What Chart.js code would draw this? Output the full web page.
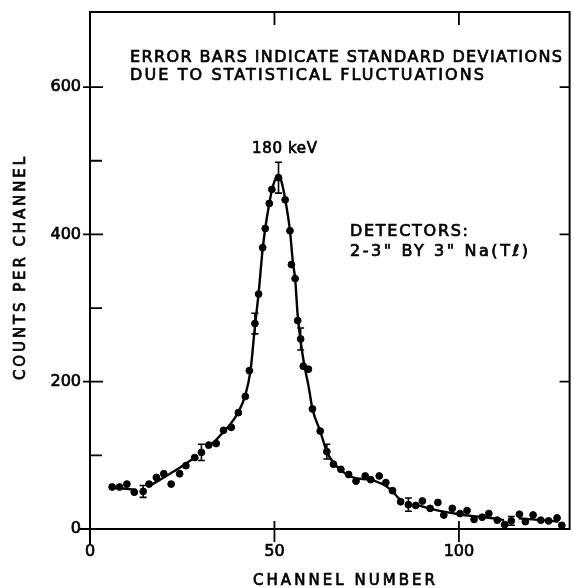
<!DOCTYPE html>
<html>
<head>
<meta charset="utf-8">
<script src="https://cdn.jsdelivr.net/npm/chart.js@4.4.0/dist/chart.umd.min.js"></script>
<style>
  html, body { margin: 0; padding: 0; background: #fff; }
  #wrap { width: 574px; height: 588px; }
</style>
</head>
<body>
<div id="wrap"><canvas id="spectrum" width="574" height="588"></canvas></div>
<script>
// measured points
const channels = [6, 8, 10, 12, 14.4, 16, 18, 20, 22, 24.3, 26, 28.4, 30.2, 32.2, 34.2, 36.2, 38.3, 40.2, 42.1, 43.2,
  44.7, 45.7, 46.8, 47.5, 48.6, 49.3, 51.1, 52.9, 54.2, 54.6, 55.6, 56.3, 57.1, 57.8, 59.2, 60.3, 62.4, 64.2, 66, 68,
  70.1, 72.1, 74.6, 76.1, 78.4, 80.2, 82, 84.2, 86.3, 88.3, 90.1, 92.2, 94.3, 95.9, 98.2, 100.3, 102.2, 104.1, 106.3,
  108.1, 110.4, 112.4, 114.2, 116.4, 118, 120.1, 122.2, 124.3, 126.6, 127.9];
const counts = [57, 57, 61, 50, 51, 61, 70, 75, 61, 75, 86, 97, 104, 114, 116, 134, 138, 158, 180, 215,
  279, 319, 382, 408, 442, 461, 477, 447, 405, 359, 340, 283, 258, 221, 217, 163, 133, 105, 88, 81,
  74, 65, 72, 67, 72, 63, 52, 37, 33, 32, 38, 28, 36, 19, 28, 21, 25, 13, 16,
  21, 12, 6, 11, 20, 10, 19, 12, 11, 15, 5];

// error bars (one standard deviation)
const errChannels = [14.4, 30.2, 44.7, 51.1, 57.1, 64.2, 86.3, 114.2];
const errCounts = [51, 104, 279, 477, 258, 105, 33, 11];
const errSigma = [8, 11, 14, 21, 15, 10, 9, 6];

// hand drawn curve, null = break in the line
const fitChannels = [6, 9, 12.6, 14, 15.8, 18, 20, 22, 24, 26, 28.8, 30, 31.5, 34, 36, 38, 40, 42, 43.5, 44.7,
  45.7, 46.8, 47.5, 48.6, 49.3, 50.3, 51.1, 52, 52.9, 54.2, 55, 55.6, 56.3, 57.1, 58, 59.2, 60.3, 62.4, 64.2, 66,
  68, 70, 72, 74.8, 76, 78.8, 80, 81.5, 84.2, 86, 88.3, 92, 95.9, 100, 104, 107.2, 110, 112.2, 114, 116.2,
  120, 124, 127];
const fitCounts = [56, 55, 53, null, 58, 64, 70, 76, 82, 89, 98, null, 110, 120, 131, 142, 157, 180, 215, 275,
  320, 380, 408, 442, 460, 476, 481, 470, 448, 405, 362, 340, 290, 255, 225, 195, 163, 133, 105, 90,
  80, 73, 69, 67.5, 67, 62, 59, 53, 39, null, 33, 28, 23.5, 20, 17.5, 16, 14, 12, null, 14.5,
  13, 11.5, 10];

const yLabels = [0, 200, 400, 600];
const xLabels = [0, 50, 100];

const FONT = '"DejaVu Sans", sans-serif';

// lettering: filled plus a thin stroke to get the heavier pen weight
function letter(ctx, text, x, y, size, width) {
  ctx.font = size + "px " + FONT;
  ctx.letterSpacing = "0px";
  if (width) {
    const w = ctx.measureText(text).width;
    const gap = (width - w) / (text.length - 1);
    ctx.letterSpacing = gap.toFixed(2) + "px";
  }
  ctx.lineWidth = 0.7;
  ctx.fillText(text, x, y);
  ctx.strokeText(text, x, y);
  ctx.letterSpacing = "0px";
}

const paperPlugin = {
  id: "paper",
  afterDatasetsDraw(chart) {
    const ctx = chart.ctx;
    const xs = chart.scales.x, ys = chart.scales.y;
    const a = chart.chartArea;
    ctx.save();
    ctx.strokeStyle = "#000";
    ctx.fillStyle = "#000";

    // frame
    ctx.lineWidth = 2;
    ctx.strokeRect(a.left, a.top, a.right - a.left, a.bottom - a.top);
    ctx.beginPath();
    ctx.moveTo(a.left - 10, a.bottom); ctx.lineTo(a.left, a.bottom);
    ctx.moveTo(a.left, a.bottom); ctx.lineTo(a.left, a.bottom + 16);
    ctx.stroke();

    // ticks
    ctx.lineWidth = 1.8;
    ctx.beginPath();
    for (let v = 100; v <= 600; v += 100) {
      const py = ys.getPixelForValue(v);
      if (v % 200 === 0) {
        ctx.moveTo(a.left - 7, py); ctx.lineTo(a.left + 13, py);
        ctx.moveTo(a.right, py); ctx.lineTo(a.right - 10, py);
      } else {
        ctx.moveTo(a.left, py); ctx.lineTo(a.left + 12, py);
      }
    }
    [50, 100].forEach(v => {
      const px = xs.getPixelForValue(v);
      ctx.moveTo(px, a.bottom - 8); ctx.lineTo(px, a.bottom + 13);
      ctx.moveTo(px, a.top); ctx.lineTo(px, a.top + 13);
    });
    ctx.stroke();

    // error bars
    ctx.lineWidth = 1.6;
    errChannels.forEach((c, i) => {
      const px = xs.getPixelForValue(c);
      const top = ys.getPixelForValue(errCounts[i] + errSigma[i]);
      const bot = ys.getPixelForValue(errCounts[i] - errSigma[i]);
      ctx.beginPath();
      ctx.moveTo(px, top); ctx.lineTo(px, bot);
      ctx.moveTo(px - 3.5, top); ctx.lineTo(px + 3.5, top);
      ctx.moveTo(px - 3.5, bot); ctx.lineTo(px + 3.5, bot);
      ctx.stroke();
    });

    // tick labels
    ctx.textBaseline = "middle";
    ctx.textAlign = "right";
    yLabels.forEach(v => letter(ctx, String(v), a.left - 9, ys.getPixelForValue(v), 16));
    ctx.textAlign = "center";
    ctx.textBaseline = "alphabetic";
    xLabels.forEach(v => letter(ctx, String(v), xs.getPixelForValue(v), a.bottom + 27, 16));

    // annotations
    ctx.textAlign = "left";
    letter(ctx, "ERROR BARS INDICATE STANDARD DEVIATIONS", 130, 62, 16, 432);
    letter(ctx, "DUE TO STATISTICAL FLUCTUATIONS", 130, 80, 16, 354);
    letter(ctx, "180 keV", 252, 153, 15, 65);
    letter(ctx, "DETECTORS:", 350, 236, 16, 118);
    letter(ctx, "2-3\" BY 3\" Na(T\u2113)", 350, 256, 16, 178);
    letter(ctx, "CHANNEL NUMBER", 253, 585, 15, 182);

    ctx.translate(25, 380);
    ctx.rotate(-Math.PI / 2);
    letter(ctx, "COUNTS PER CHANNEL", 0, 0, 15, 223);
    ctx.restore();
  }
};

new Chart(document.getElementById("spectrum"), {
  type: "scatter",
  data: {
    datasets: [
      {
        label: "curve",
        type: "line",
        data: fitChannels.map((c, i) => ({ x: c, y: fitCounts[i] })),
        borderColor: "#000",
        borderWidth: 2.4,
        pointRadius: 0,
        fill: false,
        spanGaps: false,
        cubicInterpolationMode: "monotone"
      },
      {
        label: "counts",
        data: channels.map((c, i) => ({ x: c, y: counts[i] })),
        backgroundColor: "#000",
        borderColor: "#000",
        pointRadius: 3.4,
        pointHoverRadius: 3.4
      }
    ]
  },
  options: {
    responsive: false,
    animation: false,
    events: [],
    layout: { padding: { left: 0, right: 1, top: 12, bottom: 0 } },
    plugins: { legend: { display: false }, tooltip: { enabled: false } },
    scales: {
      x: {
        type: "linear",
        min: 0,
        max: 130,
        border: { display: false },
        grid: { display: false, drawTicks: false },
        ticks: { display: false },
        afterFit: s => { s.height = 59; },
        afterBuildTicks: s => { s.ticks = xLabels.map(v => ({ value: v })); }
      },
      y: {
        type: "linear",
        min: 0,
        max: 702,
        border: { display: false },
        grid: { display: false, drawTicks: false },
        ticks: { display: false },
        afterFit: s => { s.width = 90; },
        afterBuildTicks: s => { s.ticks = yLabels.map(v => ({ value: v })); }
      }
    }
  },
  plugins: [paperPlugin]
});
</script>
</body>
</html>
